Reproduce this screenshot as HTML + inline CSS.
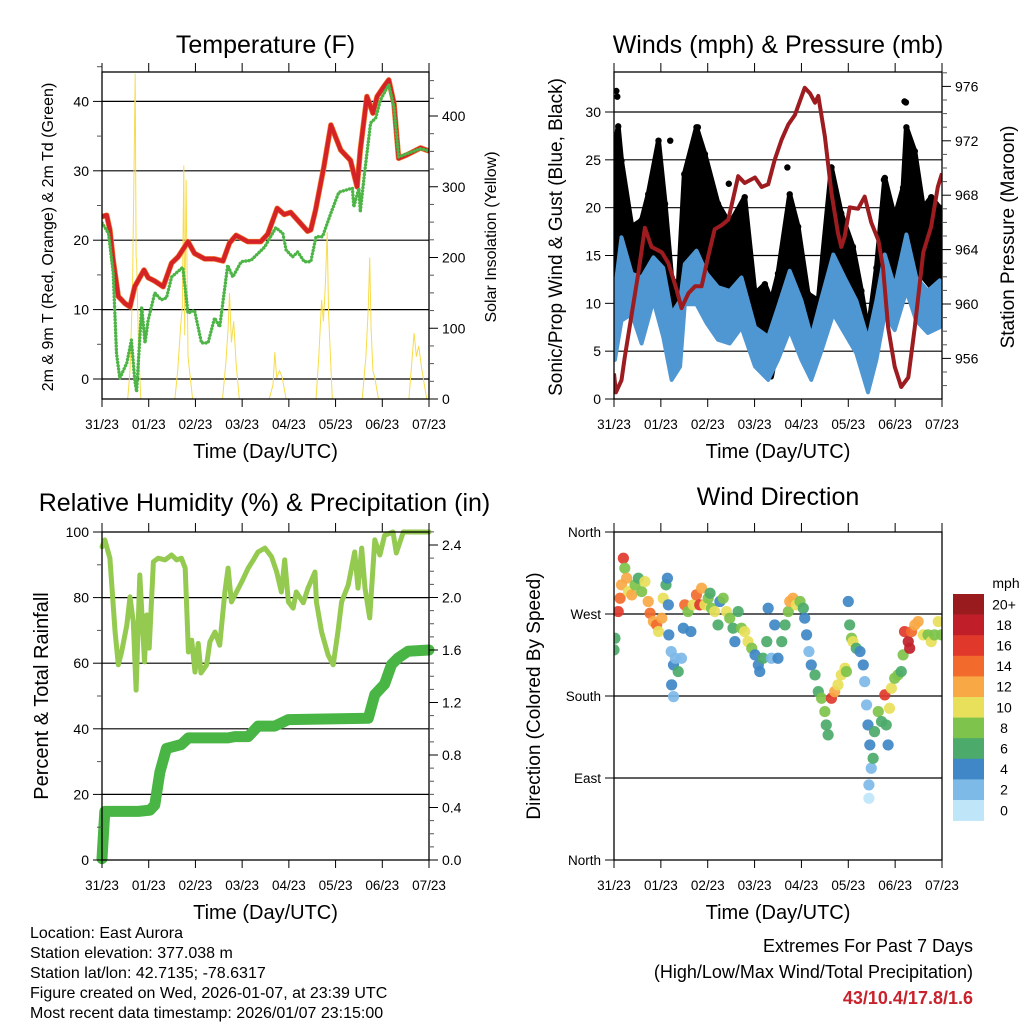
<!DOCTYPE html>
<html><head><meta charset="utf-8"><title>Station Meteogram</title>
<style>
html,body{margin:0;padding:0;background:#fff;}
svg{display:block;font-family:"Liberation Sans",Arial,sans-serif;}
</style></head>
<body>
<svg id="fig" xmlns="http://www.w3.org/2000/svg" width="1024" height="1024" viewBox="0 0 1024 1024">
<rect x="0" y="0" width="1024" height="1024" fill="#fff"/>
</svg>
<script>
// ---------------- DATA ----------------
const dayLabels = ["31/23","01/23","02/23","03/23","04/23","05/23","06/23","07/23"];
// Temperature (F)
const tempDays = [0,0.10,0.17,0.24,0.35,0.49,0.60,0.70,0.90,0.99,1.13,1.31,1.49,1.63,1.84,1.98,2.20,2.41,2.59,2.73,2.87,3.12,3.40,3.55,3.75,3.90,4.04,4.40,4.47,4.57,4.75,4.90,5.11,5.32,5.46,5.53,5.67,5.80,5.89,6.03,6.14,6.25,6.35,6.53,6.82,6.98];
const tempVals = [23.4,23.6,21.5,17.1,11.9,10.9,10.4,13.3,15.7,14.6,14.1,13.3,16.7,17.6,19.8,18.1,17.3,17.3,17.0,19.6,20.7,19.8,19.8,20.9,24.6,23.7,24.0,21.3,21.5,24.3,30.6,36.6,33.0,31.5,27.7,33.0,40.7,38.3,40.7,42.1,43.1,39.7,31.8,32.3,33.3,32.9];
const dewDays = [0,0.14,0.24,0.31,0.38,0.53,0.63,0.70,0.74,0.85,0.92,0.99,1.13,1.27,1.38,1.49,1.73,1.84,1.98,2.13,2.27,2.41,2.52,2.69,2.80,2.98,3.19,3.48,3.72,3.87,3.94,4.08,4.19,4.33,4.47,4.58,4.72,4.90,5.07,5.36,5.39,5.50,5.53,5.61,5.75,5.86,5.96,6.14,6.25,6.35,6.82,6.98];
const dewVals = [22.5,21.0,15.3,3.7,0.1,2.3,5.6,-0.1,-1.8,10.4,5.2,8.5,12.4,11.4,11.7,14.7,16.1,9.5,9.9,5.2,5.2,8.8,7.5,16.4,14.7,16.9,17.1,19.0,21.8,21.0,18.6,17.6,18.3,16.9,16.9,20.5,20.5,23.9,26.9,27.5,24.8,27.5,24.1,29.1,36.9,37.6,40.2,42.4,39.2,32.0,33.2,32.9];
// Solar insolation (right axis)
const solarDays = [0,0.55,0.60,0.65,0.68,0.71,0.73,0.74,0.78,0.83,1.56,1.62,1.68,1.72,1.75,1.77,1.80,1.84,1.94,2.58,2.65,2.70,2.73,2.77,2.82,2.87,2.94,3.58,3.66,3.70,3.74,3.80,3.86,3.94,4.58,4.64,4.70,4.74,4.78,4.82,4.85,4.93,5.57,5.65,5.70,5.73,5.76,5.80,5.84,5.92,6.57,6.63,6.68,6.73,6.78,6.85,6.95,7.0];
const solarVals = [0,0,40,150,300,460,200,196,80,0,0,40,100,130,330,90,310,60,0,0,50,100,150,80,110,50,0,0,20,66,30,40,30,0,0,60,140,110,160,236,120,0,0,60,130,200,100,40,30,0,0,50,93,60,75,40,0,0];
// Winds (mph)
const windDays = [0.02,0.16,0.38,0.59,0.84,1.05,1.23,1.41,1.51,1.76,1.98,2.22,2.47,2.72,3.01,3.29,3.50,3.75,4.00,4.21,4.43,4.68,4.92,5.17,5.42,5.60,5.78,5.99,6.24,6.45,6.70,6.95];
const windHigh = [11.3,16.9,13.1,12.7,14.8,13.7,8.9,10.3,14.1,15.5,13.1,11.7,11.3,12.7,7.5,6.5,9.6,13.4,10.3,6.5,10.6,15.1,12.7,10.3,6.2,10.3,15.1,11.7,17.2,12.7,11.3,12.4];
const windLow = [4.1,8.2,8.9,5.8,10.3,6.5,2.0,3.4,9.9,9.9,7.9,6.2,5.8,7.5,3.4,2.0,4.1,7.2,4.1,2.0,5.1,8.9,6.9,4.8,0.7,4.1,8.9,7.2,11.3,8.2,6.9,7.5];
const gustDays = [0.02,0.09,0.16,0.38,0.59,0.73,0.95,1.09,1.23,1.37,1.50,1.76,1.94,2.22,2.47,2.79,3.01,3.22,3.36,3.50,3.75,3.93,4.14,4.36,4.64,4.85,5.10,5.28,5.42,5.60,5.78,5.99,6.17,6.24,6.42,6.60,6.77,6.95];
const gustHigh = [26.6,28.5,24.9,18.0,18.7,21.4,27.0,20.4,12.7,11.7,23.5,28.4,25.6,20.4,18.3,21.1,11.0,12.0,10.3,13.1,21.4,18.0,11.0,10.3,24.2,19.4,15.9,11.3,7.1,13.7,23.1,19.0,22.1,28.4,25.9,20.0,21.1,20.0];
const gustLow = [11.0,14.0,16.2,11.0,11.0,12.7,14.5,11.0,4.1,5.8,12.7,14.5,12.7,11.0,10.3,11.0,4.8,4.1,2.3,5.8,11.0,9.2,5.1,4.8,12.7,11.0,9.2,5.8,2.3,6.9,12.7,11.7,14.5,14.5,12.7,12.7,11.7,12.4];
const gustOutDays = [0.05,0.07,6.20,6.23,1.79,3.70,4.64,5.76,1.20,2.45];
const gustOutVals = [32.2,31.6,31.1,31.0,28.4,24.2,24.2,22.9,27.0,22.5];
// Pressure (mb)
const presDays = [0,0.04,0.16,0.23,0.38,0.52,0.66,0.80,1.02,1.16,1.34,1.44,1.59,1.73,1.87,2.01,2.15,2.30,2.44,2.65,2.79,3.01,3.15,3.29,3.43,3.58,3.72,3.86,4.07,4.18,4.29,4.36,4.50,4.64,4.78,4.85,4.92,5.03,5.21,5.35,5.49,5.64,5.74,5.85,5.99,6.13,6.28,6.42,6.60,6.77,6.91,7.0];
const presVals = [954.9,953.5,954.4,956.1,959.3,962.3,965.6,964.2,963.8,963.0,961.0,959.7,960.8,961.3,961.3,963.5,965.5,965.8,966.2,969.4,968.9,969.3,968.6,968.8,970.6,972.1,973.2,973.9,975.9,975.5,974.8,975.3,972.3,968.2,965.2,964.2,964.9,967.1,967.0,967.9,966.0,964.7,962.7,958.3,955.4,953.9,954.6,958.3,963.8,965.7,968.6,969.6];
// Relative humidity (%) & precipitation (in)
const rhDays = [0,0.06,0.17,0.21,0.28,0.35,0.42,0.53,0.60,0.67,0.73,0.81,0.91,0.96,1.01,1.10,1.20,1.35,1.49,1.60,1.70,1.78,1.85,1.92,1.99,2.06,2.12,2.24,2.31,2.42,2.52,2.63,2.70,2.77,2.88,2.99,3.13,3.24,3.34,3.49,3.63,3.74,3.84,3.91,3.99,4.09,4.16,4.31,4.41,4.56,4.59,4.70,4.84,4.95,5.05,5.13,5.27,5.41,5.48,5.56,5.63,5.73,5.84,5.95,6.05,6.23,6.30,6.45,7.0];
const rhVals = [95.5,97.6,92,83.8,69.5,59.5,63.4,71.6,80.2,72.6,51.8,86.9,60.4,74.7,64.6,90.9,92,91.5,93,91.5,92,89,63.4,67,57.3,66,57,59.5,66.5,69.5,65.5,81.7,89,78.7,81.7,84.8,89,91.5,93.9,95.1,92.4,87.8,81.7,91.5,78.7,76.8,81.7,78.4,82.9,87.8,78.7,69.5,62.5,59.5,69.5,78.7,83.8,93.9,82.9,95.1,82.9,73.8,97.6,93,99,100,93.6,100,100];
const rainDays = [0,0.06,0.21,0.78,1.03,1.13,1.24,1.38,1.70,1.85,2.70,2.84,3.13,3.34,3.70,3.99,5.70,5.84,6.05,6.20,6.34,6.55,7.0];
const rainVals = [0.01,0.37,0.37,0.37,0.38,0.42,0.67,0.85,0.88,0.93,0.93,0.94,0.94,1.02,1.02,1.07,1.08,1.26,1.34,1.49,1.54,1.59,1.60];
// Wind direction (deg) & speed (mph)
const dirDays = [0.00,0.02,0.09,0.13,0.16,0.20,0.23,0.27,0.31,0.38,0.45,0.52,0.59,0.66,0.73,0.77,0.84,0.91,0.95,1.02,1.05,1.11,1.14,1.16,1.17,1.22,1.27,1.31,1.37,1.23,1.27,1.44,1.48,1.51,1.58,1.64,1.69,1.76,1.83,1.87,1.94,2.01,2.05,2.08,2.15,2.22,2.26,2.33,2.40,2.47,2.54,2.58,2.65,2.72,2.79,2.86,2.94,3.01,3.08,3.11,3.18,3.26,3.29,3.36,3.43,3.50,3.58,3.65,3.72,3.75,3.82,3.89,3.97,4.04,4.07,4.11,4.16,4.21,4.29,4.36,4.43,4.50,4.53,4.57,4.64,4.71,4.78,4.85,4.93,4.96,5.00,5.03,5.07,5.10,5.17,5.25,5.32,5.35,5.39,5.42,5.46,5.49,5.44,5.44,5.53,5.56,5.64,5.71,5.78,5.81,5.85,5.88,5.92,5.99,6.06,6.13,6.17,6.20,6.28,6.31,6.35,6.42,6.49,6.60,6.70,6.77,6.84,6.92,6.99];
const dirVals = [230.6,243.4,272.7,287.3,302.0,331.2,320.3,309.3,294.6,291.0,302.0,309.3,294.6,305.6,283.7,270.8,261.7,258.0,250.7,265.4,287.3,302.0,309.3,280.0,247.1,228.8,214.1,221.4,206.8,192.2,179.3,221.4,254.4,280.0,272.7,250.7,280.0,291.0,280.0,298.3,280.0,287.3,292.8,276.3,272.7,258.0,283.7,287.3,272.7,265.4,254.4,239.7,272.7,254.4,250.7,239.7,232.4,225.1,214.1,206.8,221.4,239.7,276.3,221.4,258.0,221.4,239.7,258.0,272.7,283.7,287.3,280.0,283.7,276.3,265.4,247.1,228.8,214.1,203.1,184.8,177.5,162.9,148.2,137.3,177.5,184.8,192.2,203.1,210.5,206.8,283.7,258.0,243.4,239.7,232.4,228.8,214.1,195.8,170.2,148.2,126.3,100.7,82.4,67.7,111.6,140.9,162.9,151.9,181.2,148.2,126.3,166.5,188.5,199.5,203.1,206.8,225.1,250.7,239.7,232.4,250.7,258.0,261.7,247.1,247.1,239.7,247.1,261.7,247.1];
const dirSpeed = [6,6,16,14,12,16,8,12,10,12,8,6,8,10,12,14,12,14,10,12,10,6,4,4,4,2,4,2,6,4,2,2,4,14,8,4,10,14,16,12,10,8,6,8,10,6,4,8,10,8,6,4,6,8,10,10,8,4,4,4,6,6,4,2,4,4,6,6,8,12,12,10,8,6,4,4,2,4,6,6,8,8,6,6,16,12,10,10,10,8,4,6,8,10,6,4,4,2,2,4,4,2,2,0,6,6,8,6,16,6,4,10,10,8,8,6,8,16,18,18,14,12,12,10,8,10,8,10,8];
const cbarLabels = ["20+","18","16","14","12","10","8","6","4","2","0"];
const cbarColors = ["#9a1b1e","#c01f2a","#e0392b","#f26a2c","#f8a845","#e8e05a","#7ec34b","#4caa6a","#3f87c6","#7dbae8","#bfe6f8"];

// ---------------- HELPERS ----------------
const NS = "http://www.w3.org/2000/svg";
const svg = document.getElementById("fig");
function mk(tag, attrs, parent) {
  const e = document.createElementNS(NS, tag);
  for (const k in attrs) e.setAttribute(k, attrs[k]);
  (parent || svg).appendChild(e);
  return e;
}
function txt(s, x, y, size, anchor, parent, extra) {
  const t = mk("text", Object.assign({x: x, y: y, "font-size": size, "text-anchor": anchor || "middle", fill: "#000"}, extra || {}), parent);
  t.textContent = s;
  return t;
}
function lin(d0, d1, r0, r1) { return v => r0 + (v - d0) / (d1 - d0) * (r1 - r0); }
function pathFrom(xs, ys, fx, fy) {
  let d = "";
  for (let i = 0; i < xs.length; i++) d += (i ? "L" : "M") + fx(xs[i]).toFixed(1) + "," + fy(ys[i]).toFixed(1);
  return d;
}
function clip(id, x, y, w, h) {
  let defs = svg.querySelector("defs") || mk("defs", {});
  const c = mk("clipPath", {id: id}, defs);
  mk("rect", {x: x, y: y, width: w, height: h}, c);
}
function timeAxis(g, L, R, T, B, labelY, titleY) {
  const fx = lin(0, 7, L, R);
  for (let i = 0; i < dayLabels.length; i++) {
    const x = fx(i);
    mk("line", {x1: x, y1: B, x2: x, y2: B + 8, stroke: "#000", "stroke-width": 1}, g);
    mk("line", {x1: x, y1: T, x2: x, y2: T - 9, stroke: "#000", "stroke-width": 1}, g);
    const t = txt(dayLabels[i], x, labelY, 13.5, "middle", g);
    
    
  }
  const tt = txt("Time (Day/UTC)", (L + R) / 2, titleY, 20, "middle", g);
  
  
}
function frame(g, L, R, T, B) {
  const r = mk("rect", {x: L, y: T, width: R - L, height: B - T, fill: "none", stroke: "#000", "stroke-width": 1.3}, g);
  
  
}
function yTicks(g, side, X, vals, fy, labels, size, minorVals) {
  const dir = side === "left" ? -1 : 1;
  for (let i = 0; i < vals.length; i++) {
    const y = fy(vals[i]);
    mk("line", {x1: X, y1: y, x2: X + dir * 9, y2: y, stroke: "#000", "stroke-width": 1}, g);
    const t = txt(labels[i], X + dir * 13, y + size * 0.36, size, side === "left" ? "end" : "start", g);
    
    
  }
  (minorVals || []).forEach(v => {
    const y = fy(v);
    mk("line", {x1: X, y1: y, x2: X + dir * 5, y2: y, stroke: "#555", "stroke-width": 1}, g);
  });
}
function grid(g, L, R, ys) {
  ys.forEach(y => mk("line", {x1: L, y1: y, x2: R, y2: y, stroke: "#000", "stroke-width": 1.2}, g));
}
function rotTitle(g, s, x, y, size, name) {
  const t = txt(s, x, y, size, "middle", g, {transform: "rotate(-90 " + x + " " + y + ")"});
  
  
}
function range(a, b, s) { const r = []; for (let v = a; v <= b + 1e-9; v += s) r.push(+v.toFixed(4)); return r; }

// ---------------- PANEL 1: TEMPERATURE ----------------
(function () {
  const L = 102, R = 429, T = 72, B = 399;
  const g = mk("g", {});
  
  
  const fx = lin(0, 7, L, R);
  const fy = lin(0, 40, 379, 101.4);
  const fs = lin(0, 400, 399, 116);
  clip("c1", L, T, R - L, B - T);
  const t = txt("Temperature (F)", (L + R) / 2, 53, 25, "middle", g);
  
  
  grid(g, L, R, [0, 10, 20, 30, 40].map(fy));
  const pg = mk("g", {"clip-path": "url(#c1)"}, g);
  const sol = mk("path", {d: pathFrom(solarDays, solarVals, fx, fs), fill: "none", stroke: "#f7dc4a", "stroke-width": 1}, pg);
  
  
  const org = mk("path", {d: pathFrom(tempDays, tempVals, fx, fy), fill: "none", stroke: "#f0782c", "stroke-width": 5.5, "stroke-linejoin": "round", "stroke-linecap": "round"}, pg);
  
  
  const red = mk("path", {d: pathFrom(tempDays, tempVals, fx, fy), fill: "none", stroke: "#d42226", "stroke-width": 4.2, "stroke-linejoin": "round", "stroke-linecap": "round"}, pg);
  
  
  const dew = mk("path", {d: pathFrom(dewDays, dewVals, fx, fy), fill: "none", stroke: "#4db446", "stroke-width": 3.4, "stroke-dasharray": "0.1 3.2", "stroke-linecap": "round", "stroke-linejoin": "round"}, pg);
  
  
  frame(g, L, R, T, B);
  yTicks(g, "left", L, [0, 10, 20, 30, 40], fy, ["0", "10", "20", "30", "40"], 14, range(-0, 45, 5).filter(v => v % 10));
  yTicks(g, "right", R, [0, 100, 200, 300, 400], fs, ["0", "100", "200", "300", "400"], 14, range(25, 450, 25).filter(v => v % 100));
  timeAxis(g, L, R, T, B, 429, 458);
  rotTitle(g, "2m & 9m T (Red, Orange) & 2m Td (Green)", 53, 237, 16, "left-y-axis-title");
  rotTitle(g, "Solar Insolation (Yellow)", 496, 237, 16, "right-y-axis-title");
})();

// ---------------- PANEL 2: WINDS & PRESSURE ----------------
(function () {
  const L = 614, R = 942, T = 72, B = 399;
  const g = mk("g", {});
  
  
  const fx = lin(0, 7, L, R);
  const fy = lin(0, 30, 399, 112);
  const fp = lin(960, 976, 304, 86.4);
  clip("c2", L, T, R - L, B - T);
  const t = txt("Winds (mph) & Pressure (mb)", (L + R) / 2, 53, 25, "middle", g);
  
  
  grid(g, L, R, [5, 10, 15, 20, 25, 30].map(fy));
  const pg = mk("g", {"clip-path": "url(#c2)"}, g);
  let d = pathFrom(gustDays, gustHigh, fx, fy);
  for (let i = gustDays.length - 1; i >= 0; i--) d += "L" + fx(gustDays[i]).toFixed(1) + "," + fy(gustLow[i]).toFixed(1);
  const gb = mk("path", {d: d + "Z", fill: "#000", stroke: "#000", "stroke-width": 5, "stroke-linejoin": "round"}, pg);
  
  
  for (let i = 0; i < gustDays.length; i++) {
    const c = mk("circle", {cx: fx(gustDays[i]), cy: fy(gustHigh[i]), r: 3.2, fill: "#000"}, pg);
    
    
  }
  for (let i = 0; i < gustOutDays.length; i++) {
    const c = mk("circle", {cx: fx(gustOutDays[i]), cy: fy(gustOutVals[i]), r: 3.2, fill: "#000"}, pg);
    
    
  }
  let w = pathFrom(windDays, windHigh, fx, fy);
  for (let i = windDays.length - 1; i >= 0; i--) w += "L" + fx(windDays[i]).toFixed(1) + "," + fy(windLow[i]).toFixed(1);
  const wb = mk("path", {d: w + "Z", fill: "#4f97d3", stroke: "#4f97d3", "stroke-width": 4, "stroke-linejoin": "round"}, pg);
  
  
  const pl = mk("path", {d: pathFrom(presDays, presVals, fx, fp), fill: "none", stroke: "#9c1c20", "stroke-width": 4, "stroke-linejoin": "round"}, pg);
  
  
  frame(g, L, R, T, B);
  yTicks(g, "left", L, [0, 5, 10, 15, 20, 25, 30], fy, ["0", "5", "10", "15", "20", "25", "30"], 14, []);
  yTicks(g, "right", R, [956, 960, 964, 968, 972, 976], fp, ["956", "960", "964", "968", "972", "976"], 14, range(954, 977, 1).filter(v => v % 4));
  timeAxis(g, L, R, T, B, 429, 458);
  rotTitle(g, "Sonic/Prop Wind & Gust (Blue, Black)", 562, 237, 19, "left-y-axis-title");
  rotTitle(g, "Station Pressure (Maroon)", 1014, 237, 19, "right-y-axis-title");
})();

// ---------------- PANEL 3: RH & PRECIP ----------------
(function () {
  const L = 102, R = 429, T = 532, B = 860;
  const g = mk("g", {});
  
  
  const fx = lin(0, 7, L, R);
  const fy = lin(0, 100, 860, 532);
  const fr = lin(0, 2.4, 860, 545);
  clip("c3", L - 6, T - 6, R - L + 12, B - T + 12);
  const t = txt("Relative Humidity (%) & Precipitation (in)", (L + R) / 2 - 1, 511, 25, "middle", g);
  
  
  grid(g, L, R, [20, 40, 60, 80].map(fy));
  const pg = mk("g", {"clip-path": "url(#c3)"}, g);
  const rh = mk("path", {d: pathFrom(rhDays, rhVals, fx, fy), fill: "none", stroke: "#94ca4f", "stroke-width": 5, "stroke-linejoin": "round", "stroke-linecap": "round"}, pg);
  
  
  const rn = mk("path", {d: pathFrom(rainDays, rainVals, fx, fr), fill: "none", stroke: "#49b544", "stroke-width": 11, "stroke-linejoin": "round", "stroke-linecap": "round"}, pg);
  
  
  frame(g, L, R, T, B);
  yTicks(g, "left", L, [0, 20, 40, 60, 80, 100], fy, ["0", "20", "40", "60", "80", "100"], 14, range(10, 90, 20));
  yTicks(g, "right", R, [0, 0.4, 0.8, 1.2, 1.6, 2.0, 2.4], fr, ["0.0", "0.4", "0.8", "1.2", "1.6", "2.0", "2.4"], 14, range(0.1, 2.5, 0.1).filter(v => Math.abs(v / 0.4 - Math.round(v / 0.4)) > 0.01));
  timeAxis(g, L, R, T, B, 890, 919);
  rotTitle(g, "Percent & Total Rainfall", 48, 696, 20, "left-y-axis-title");
})();

// ---------------- PANEL 4: WIND DIRECTION ----------------
(function () {
  const L = 614, R = 942, T = 532, B = 860;
  const g = mk("g", {});
  
  
  const fx = lin(0, 7, L, R);
  const fy = lin(0, 360, 860, 532);
  clip("c4", L, T, R - L, B - T);
  const t = txt("Wind Direction", (L + R) / 2, 505, 25, "middle", g);
  
  
  grid(g, L, R, [90, 180, 270].map(fy));
  const pg = mk("g", {"clip-path": "url(#c4)"}, g);
  function colorFor(s) {
    let idx = Math.min(10, Math.round(s / 2));
    return cbarColors[10 - idx];
  }
  for (let i = 0; i < dirDays.length; i++) {
    const c = mk("circle", {cx: fx(dirDays[i]), cy: fy(dirVals[i]), r: 5.6, fill: colorFor(dirSpeed[i]), "fill-opacity": 0.92}, pg);
    
    
  }
  frame(g, L, R, T, B);
  yTicks(g, "left", L, [0, 90, 180, 270, 360], fy, ["North", "East", "South", "West", "North"], 13.5, []);
  timeAxis(g, L, R, T, B, 890, 919);
  rotTitle(g, "Direction (Colored By Speed)", 540, 696, 19, "left-y-axis-title");
  const cb = mk("g", {}, g);
  
  
  const ct = txt("mph", 1006, 588, 14, "middle", cb);
  
  
  const h = 20.6;
  for (let i = 0; i < cbarColors.length; i++) {
    const r = mk("rect", {x: 953, y: 594 + i * h, width: 31, height: h + 0.3, fill: cbarColors[i]}, cb);
    
    
    const l = txt(cbarLabels[i], 1004, 594 + i * h + h / 2 + 5, 14, "middle", cb);
    
    
  }
})();

// ---------------- FOOTER TEXT ----------------
(function () {
  const g = mk("g", {});
  
  
  const lines = ["Location: East Aurora", "Station elevation: 377.038 m", "Station lat/lon: 42.7135; -78.6317", "Figure created on Wed, 2026-01-07, at 23:39 UTC", "Most recent data timestamp: 2026/01/07 23:15:00"];
  lines.forEach((s, i) => {
    const t = txt(s, 30, 938 + i * 20, 16, "start", g);
    
    
  });
  const e = mk("g", {});
  
  
  const a = txt("Extremes For Past 7 Days", 973, 952, 18, "end", e);
  
  
  const b = txt("(High/Low/Max Wind/Total Precipitation)", 973, 978, 18, "end", e);
  
  
  const c = txt("43/10.4/17.8/1.6", 973, 1004, 18, "end", e, {fill: "#c8232c", "font-weight": "bold"});
  
  
})();
</script>
</body></html>
